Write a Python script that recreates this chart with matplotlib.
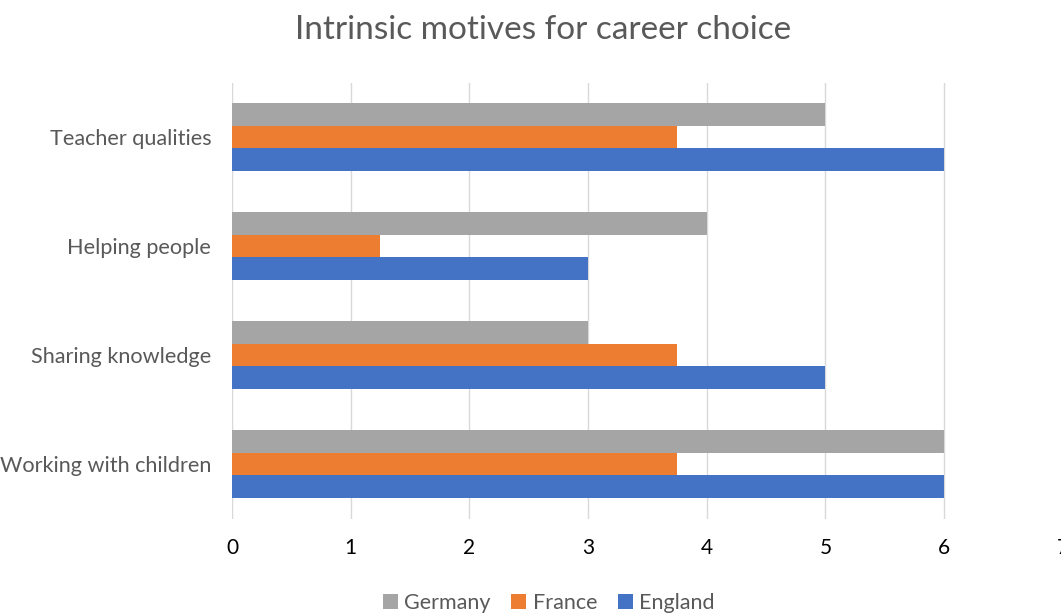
import numpy as np
import matplotlib.pyplot as plt

categories = ["Working with children", "Sharing knowledge", "Helping people", "Teacher qualities"]
england = [6, 5, 3, 6]
france = [3.75, 3.75, 1.25, 3.75]
germany = [6, 3, 4, 5]

plt.rcParams['font.family'] = ['Lato', 'DejaVu Sans']

fig = plt.figure(figsize=(10.61, 6.14), dpi=100)
ax = fig.add_axes([0.2187, 0.1555, 0.783, 0.71])

y = np.arange(len(categories))
h = 0.208
ax.barh(y - h, england, height=h, color='#4472C4', label='England', zorder=3)
ax.barh(y, france, height=h, color='#ED7D31', label='France', zorder=3)
ax.barh(y + h, germany, height=h, color='#A5A5A5', label='Germany', zorder=3)

ax.set_xlim(0, 7)
ax.set_ylim(-0.5, 3.5)
ax.set_xticks(range(8))
ax.set_yticks(y)
ax.set_yticklabels(categories, color='#595959', fontsize=15.6)
ax.tick_params(axis='x', labelsize=15, labelcolor='black', length=0, pad=14)
ax.tick_params(axis='y', length=0, pad=15)
ax.grid(axis='x', color='#D9D9D9', linewidth=1, zorder=0)
for s in ax.spines.values():
    s.set_visible(False)

fig.suptitle("Intrinsic motives for career choice", x=0.512, y=0.975,
             fontsize=24, color='#595959')

handles, labels = ax.get_legend_handles_labels()
fig.legend(handles[::-1], labels[::-1], loc='lower center', bbox_to_anchor=(0.517, -0.03),
           ncol=3, frameon=False, fontsize=15.5, labelcolor='#595959',
           handlelength=0.7, handleheight=0.7, handletextpad=0.3, columnspacing=0.95)

fig.savefig('out.png', dpi=100)
